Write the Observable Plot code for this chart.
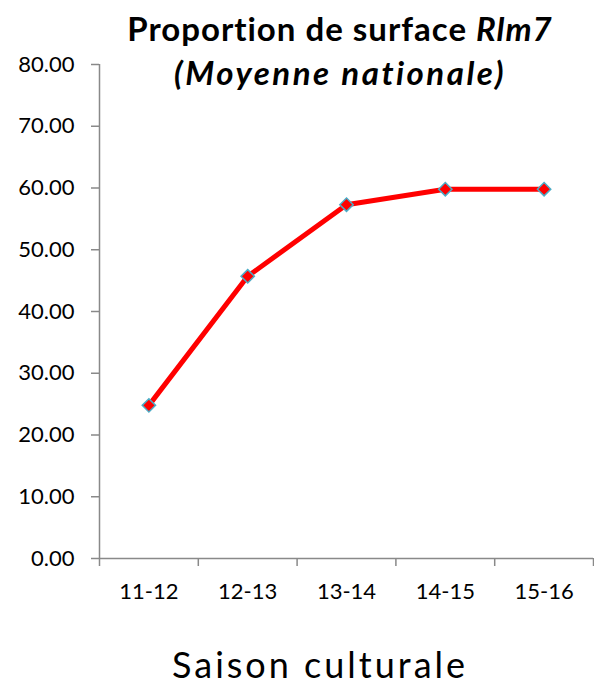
<!DOCTYPE html>
<html>
<head>
<meta charset="utf-8">
<script src="https://cdn.jsdelivr.net/npm/d3@7"></script>
<script src="https://cdn.jsdelivr.net/npm/@observablehq/plot@0.6"></script>
<style>
  html, body { margin: 0; padding: 0; background: #fff; }
  #wrap { position: relative; width: 594px; height: 690px; font-family: Lato, "Open Sans", sans-serif; overflow: hidden; }
  #chart { position: absolute; left: 0; top: 0; }
  #title { position: absolute; left: 40px; width: 600px; top: 6px; text-align: center; font-weight: bold; font-size: 33px; line-height: 44px; color: #000; white-space: nowrap; }
  #title .l1 { letter-spacing: 1px; }
  #title .l2 { letter-spacing: 2.5px; }
  #caption { position: absolute; left: 120px; width: 400px; top: 644px; text-align: center; font-size: 36px; line-height: 40px; letter-spacing: 3px; color: #000; white-space: nowrap; }
</style>
</head>
<body>
<div id="wrap">
  <div id="chart"></div>
  <div id="title"><span class="l1">Proportion de surface <i>Rlm7</i></span><br><span class="l2"><i>(Moyenne nationale)</i></span></div>
  <div id="caption">Saison culturale</div>
</div>
<script>
const categories = ["11-12", "12-13", "13-14", "14-15", "15-16"];
const values = [24.8, 45.7, 57.3, 59.8, 59.8];
const yTicks = [0, 10, 20, 30, 40, 50, 60, 70, 80];

const data = categories.map((c, i) => ({cat: c, i, value: values[i]}));
const boundaries = d3.range(categories.length + 1);
const centers = categories.map((c, i) => i + 0.5);
const gray = "#898989";

const chart = Plot.plot({
  width: 594,
  height: 620,
  marginTop: 64,
  marginBottom: 62,
  marginLeft: 99,
  marginRight: 1,
  style: {fontFamily: "Lato, 'Open Sans', sans-serif", fontSize: "22px", color: "#000", overflow: "visible", background: "transparent"},
  x: {domain: [0, categories.length]},
  y: {domain: [0, 80]},
  marks: [
    Plot.axisY({ticks: yTicks, tickFormat: d => d.toFixed(2), tickSize: 8, tickPadding: 17, stroke: gray, strokeWidth: 1.5, fill: "#000", label: null}),
    Plot.axisX({ticks: boundaries, tickFormat: () => "", tickSize: 8, stroke: gray, strokeWidth: 1.5, label: null}),
    Plot.axisX({ticks: centers, tickFormat: d => categories[Math.floor(d)], tickSize: 0, tickPadding: 25, fill: "#000", label: null}),
    Plot.ruleX([0], {stroke: gray, strokeWidth: 1.5}),
    Plot.ruleY([0], {stroke: gray, strokeWidth: 1.5}),
    Plot.line(data, {x: d => d.i + 0.5, y: "value", stroke: "#ff0000", strokeWidth: 5}),
    Plot.dot(data, {x: d => d.i + 0.5, y: "value", symbol: "diamond2", r: 6, fill: "#ff0000", stroke: "#4bacc6", strokeWidth: 1.5})
  ]
});
document.getElementById("chart").appendChild(chart);
</script>
</body>
</html>
